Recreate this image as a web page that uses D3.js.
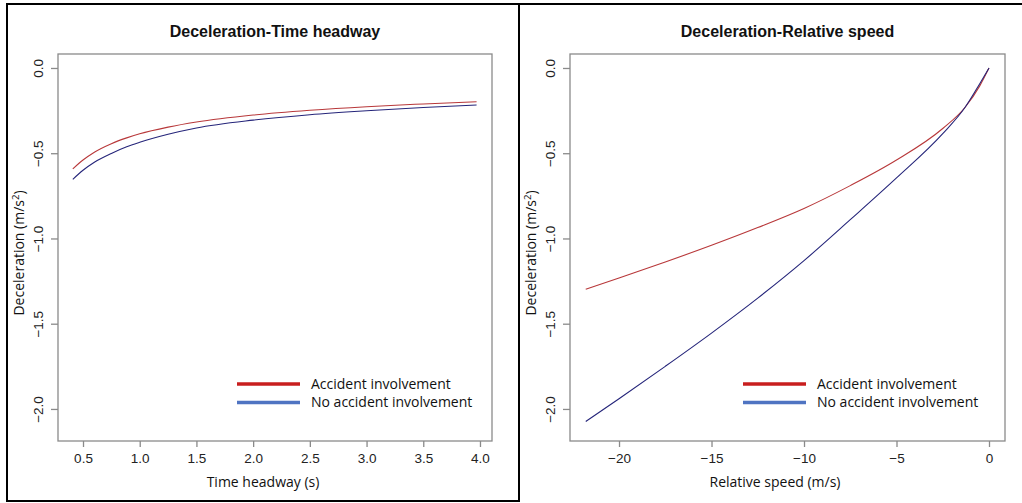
<!DOCTYPE html>
<html>
<head>
<meta charset="utf-8">
<script src="https://cdn.jsdelivr.net/npm/d3@7"></script>
<style>
  html, body { margin: 0; padding: 0; background: #fff; }
  svg { display: block; }
</style>
</head>
<body>
<svg id="chart" width="1022" height="503"></svg>
<script>
// ---- Data ----
const seriesNames = ["Accident involvement", "No accident involvement"];

// Panel 1: Deceleration vs Time headway
const headwayX = [0.41, 0.5, 0.6, 0.75, 0.885, 1.0, 1.25, 1.5, 2.0, 2.5, 3.0, 3.5, 3.97];
const headwayAccident   = [-0.592, -0.540, -0.494, -0.444, -0.410, -0.386, -0.347, -0.317, -0.276, -0.248, -0.227, -0.211, -0.198];
const headwayNoAccident = [-0.653, -0.600, -0.553, -0.501, -0.462, -0.436, -0.389, -0.352, -0.306, -0.274, -0.251, -0.232, -0.217];
const headwayTicks = [0.5, 1.0, 1.5, 2.0, 2.5, 3.0, 3.5, 4.0];

// Panel 2: Deceleration vs Relative speed
const speedX = [-21.8, -20, -17.5, -15, -12.5, -10, -7.5, -5, -2.5, -1.3, -0.5, 0];
const speedAccident   = [-1.298, -1.232, -1.138, -1.040, -0.936, -0.824, -0.690, -0.540, -0.355, -0.232, -0.105, 0];
const speedNoAccident = [-2.074, -1.940, -1.750, -1.555, -1.350, -1.130, -0.890, -0.645, -0.385, -0.232, -0.092, 0];
const speedTicks = [-20, -15, -10, -5, 0];

const decelTicks = [0.0, -0.5, -1.0, -1.5, -2.0];

// ---- Drawing ----
const svg = d3.select("#chart");
const lineColors = ["#b8383a", "#25257a"];
const legendColors = ["#c81e1e", "#4f74c2"];

// frames
svg.append("rect").attr("x", 7).attr("y", 4).attr("width", 512).attr("height", 497)
  .attr("fill", "none").attr("stroke", "#000").attr("stroke-width", 2);
svg.append("line").attr("x1", 519).attr("x2", 1022).attr("y1", 4).attr("y2", 4)
  .attr("stroke", "#000").attr("stroke-width", 2);

function panel(cfg) {
  const x = d3.scaleLinear().domain(cfg.xDomain).range([cfg.left, cfg.right]);
  const y = d3.scaleLinear().domain([0.082, -2.188]).range([54, 441]);
  const g = svg.append("g");

  // title
  g.append("text").attr("x", (cfg.left + cfg.right) / 2).attr("y", 37)
    .attr("text-anchor", "middle").attr("font-family", "Liberation Sans, Arial, sans-serif")
    .attr("font-weight", "bold").attr("font-size", 16).attr("fill", "#111").text(cfg.title);

  // plot box
  g.append("rect").attr("x", cfg.left).attr("y", 54)
    .attr("width", cfg.right - cfg.left).attr("height", 441 - 54)
    .attr("fill", "none").attr("stroke", "#8a8a8a").attr("stroke-width", 1.3);

  // x axis
  const xa = g.append("g").attr("transform", "translate(0,441)")
    .call(d3.axisBottom(x).tickValues(cfg.xTicks).tickSize(6).tickPadding(6)
      .tickFormat(cfg.xFormat));
  xa.select(".domain").remove();
  xa.selectAll(".tick line").attr("stroke", "#8a8a8a").attr("stroke-width", 1.3);
  xa.selectAll(".tick text").attr("font-family", "Liberation Sans, Arial, sans-serif")
    .attr("font-size", 13.5).attr("fill", "#222");

  // y axis
  const ya = g.append("g").attr("transform", `translate(${cfg.left},0)`)
    .call(d3.axisLeft(y).tickValues(decelTicks).tickSize(7).tickFormat(d3.format(".1f")));
  ya.select(".domain").remove();
  ya.selectAll(".tick line").attr("stroke", "#8a8a8a").attr("stroke-width", 1.3);
  ya.selectAll(".tick text").attr("font-family", "Liberation Sans, Arial, sans-serif")
    .attr("font-size", 13.5).attr("fill", "#222")
    .attr("text-anchor", "middle").attr("dy", 0).attr("x", 0)
    .attr("transform", "translate(-15,0) rotate(-90)");

  // axis titles
  g.append("text").attr("x", cfg.xTitleX).attr("y", 487).attr("text-anchor", "middle")
    .attr("font-family", "Open Sans, sans-serif").attr("font-size", 14).attr("fill", "#111")
    .text(cfg.xTitle);
  const yt = g.append("text").attr("transform", `translate(${cfg.left - 34},253) rotate(-90)`)
    .attr("text-anchor", "middle").attr("font-family", "Open Sans, sans-serif")
    .attr("font-size", 14).attr("fill", "#111");
  yt.append("tspan").text("Deceleration (m/s");
  yt.append("tspan").attr("font-size", 9.5).attr("dy", -5).text("2");
  yt.append("tspan").attr("dy", 5).text(")");

  // curves
  const lineGen = d3.line().x(d => x(d[0])).y(d => y(d[1])).curve(d3.curveMonotoneX);
  cfg.series.forEach((vals, i) => {
    const pts = cfg.xs.map((xv, j) => [xv, vals[j]]);
    g.append("path").datum(pts)
      .attr("d", lineGen)
      .attr("fill", "none").attr("stroke", lineColors[i]).attr("stroke-width", 1.1);
  });

  // legend
  seriesNames.forEach((name, i) => {
    const ly = 384 + i * 18.5;
    g.append("line").attr("x1", cfg.legendX).attr("x2", cfg.legendX + 63)
      .attr("y1", ly).attr("y2", ly).attr("stroke", legendColors[i]).attr("stroke-width", 3.5);
    g.append("text").attr("x", cfg.legendX + 74).attr("y", ly + 4.5)
      .attr("font-family", "Open Sans, sans-serif").attr("font-size", 14).attr("fill", "#111")
      .text(name);
  });
}

panel({
  title: "Deceleration-Time headway",
  left: 58, right: 492,
  xDomain: [0.2795, 4.106],
  xTicks: headwayTicks, xFormat: d3.format(".1f"),
  xTitle: "Time headway (s)", xTitleX: 263,
  xs: headwayX, series: [headwayAccident, headwayNoAccident],
  legendX: 237
});

panel({
  title: "Deceleration-Relative speed",
  left: 570, right: 1005,
  xDomain: [-22.65, 0.865],
  xTicks: speedTicks, xFormat: d3.format("d"),
  xTitle: "Relative speed (m/s)", xTitleX: 775,
  xs: speedX, series: [speedAccident, speedNoAccident],
  legendX: 743
});
</script>
</body>
</html>
